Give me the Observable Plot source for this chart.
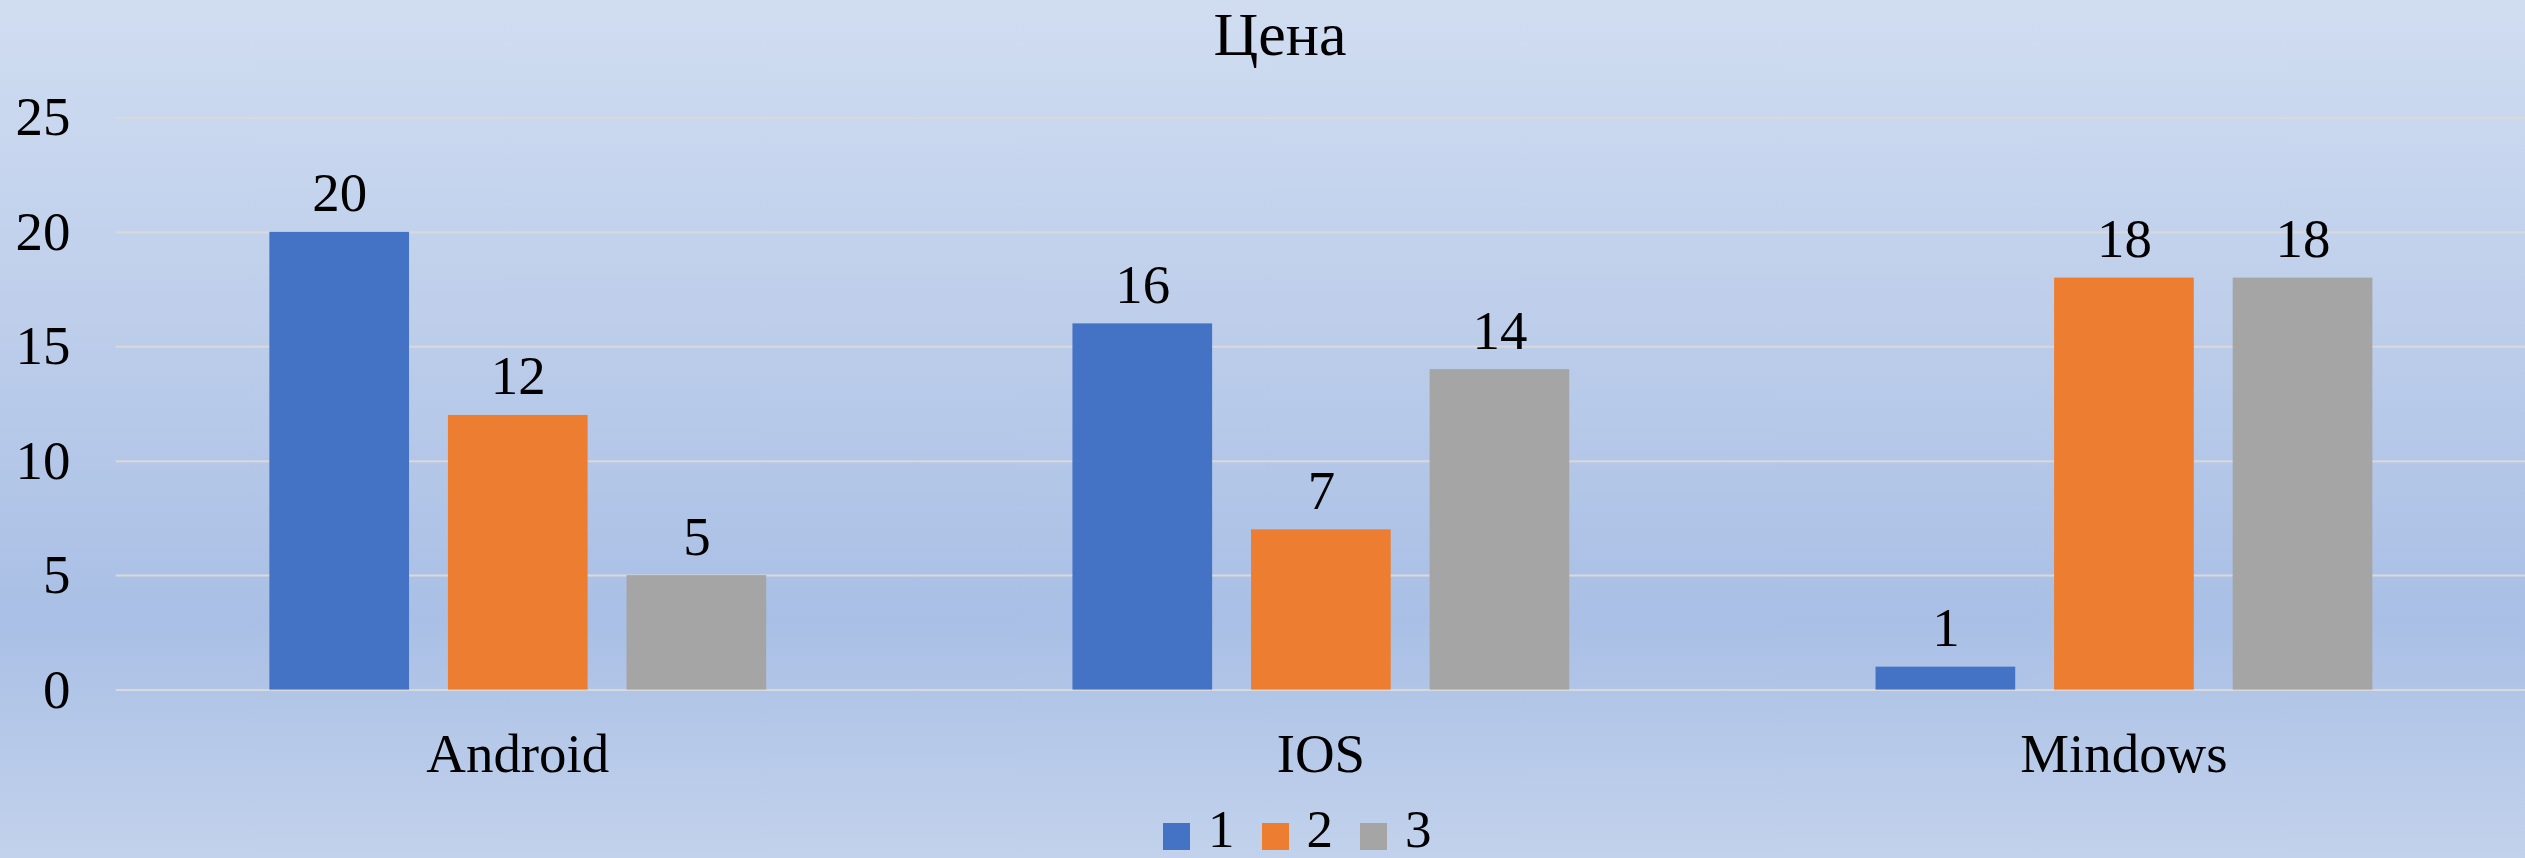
<!DOCTYPE html>
<html>
<head>
<meta charset="utf-8">
<script src="https://cdn.jsdelivr.net/npm/d3@7"></script>
<script src="https://cdn.jsdelivr.net/npm/@observablehq/plot@0.6"></script>
<style>
  html, body { margin: 0; padding: 0; }
  body {
    width: 2525px; height: 858px; overflow: hidden; position: relative;
    background: linear-gradient(to bottom, #d0ddf1 0%, #bfcfeb 35%, #a9bfe5 72%, #c2d2ec 100%);
    font-family: "Liberation Serif", "Times New Roman", serif; color: #000;
  }
  #title { position: absolute; top: 3px; left: 1280px; transform: translateX(-50%);
    font-size: 62px; line-height: 62px; white-space: nowrap; }
  #chart { position: absolute; top: 80px; left: 0; width: 2525px; overflow: hidden; }
  #legend { position: absolute; top: 807px; left: 1163px; display: flex; align-items: flex-start;
    font-size: 53px; line-height: 44px; }
  .item { display: flex; align-items: flex-start; margin-right: 27px; }
  .sw { width: 27px; height: 27px; margin-right: 18px; margin-top: 16px; }
</style>
</head>
<body>
<div id="title"></div>
<div id="chart"></div>
<div id="legend"></div>
<script>
const title = "Цена";
const categories = ["Android", "IOS", "Mindows"];
const series = ["1", "2", "3"];
const values1 = [20, 16, 1];
const values2 = [12, 7, 18];
const values3 = [5, 14, 18];
const yTicks = [0, 5, 10, 15, 20, 25];
const colors = ["#4472c4", "#ed7d31", "#a5a5a5"];

const seriesValues = [values1, values2, values3];
const data = [];
categories.forEach((c, i) => {
  series.forEach((s, j) => data.push({platform: c, series: s, value: seriesValues[j][i]}));
});

document.getElementById("title").textContent = title;

const fs = 55;
const chart = Plot.plot({
  width: 2531,
  height: 725,
  marginLeft: 115,
  marginRight: 0,
  marginTop: 37.5,
  marginBottom: 114,
  style: {background: "transparent", fontFamily: "'Liberation Serif', 'Times New Roman', serif", color: "#000"},
  fx: {domain: categories, padding: 0, label: null},
  x: {domain: series, paddingInner: 0.218, paddingOuter: 0.852, axis: null},
  y: {domain: [0, 25], label: null},
  color: {domain: series, range: colors},
  marks: [
    Plot.ruleY(yTicks, {stroke: "#d9d9d9", strokeWidth: 2, strokeOpacity: 1}),
    Plot.barY(data, {fx: "platform", x: "series", y: "value", fill: "series"}),
    Plot.text(data, {fx: "platform", x: "series", y: "value", text: d => String(d.value),
      lineAnchor: "bottom", dy: -21, fontSize: fs, fill: "#000"}),
    Plot.axisY(yTicks, {tickSize: 0, tickPadding: 46, fontSize: fs, label: null, tickFormat: d => String(d)}),
    Plot.axisFx({anchor: "bottom", tickSize: 0, tickPadding: 43, fontSize: fs, label: null})
  ]
});
document.getElementById("chart").appendChild(chart);

const legend = document.getElementById("legend");
series.forEach((s, i) => {
  const item = document.createElement("div");
  item.className = "item";
  const sw = document.createElement("div");
  sw.className = "sw";
  sw.style.background = colors[i];
  const t = document.createElement("span");
  t.textContent = s;
  item.appendChild(sw); item.appendChild(t);
  legend.appendChild(item);
});
</script>
</body>
</html>
